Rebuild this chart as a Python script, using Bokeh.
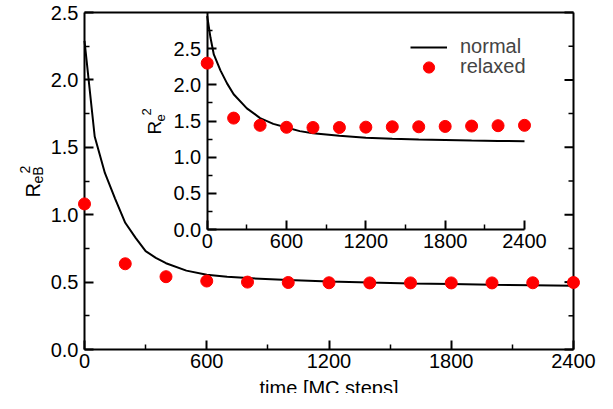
from math import pi
from bokeh.plotting import figure
from bokeh.models import (LinearAxis, Range1d, FixedTicker, PrintfTickFormatter,
                          Label, Legend, LegendItem)
from bokeh.embed import file_html
from bokeh.resources import INLINE

# ---------------- data ----------------
# main panel: R_eB^2 vs time
t_norm = [0, 50, 100, 150, 200, 250, 300, 350, 400, 500, 600, 700, 800,
          1000, 1200, 1400, 1600, 1800, 2000, 2200, 2400]
reb2_norm = [2.29, 1.58, 1.31, 1.12, 0.94, 0.83, 0.73, 0.68, 0.64, 0.585, 0.555,
             0.54, 0.53, 0.515, 0.505, 0.497, 0.49, 0.485, 0.48, 0.476, 0.472]
t_relax = [0, 200, 400, 600, 800, 1000, 1200, 1400, 1600, 1800, 2000, 2200, 2400]
reb2_relax = [1.08, 0.636, 0.54, 0.508, 0.50, 0.497, 0.495, 0.494, 0.494,
              0.494, 0.494, 0.495, 0.497]

# inset: R_e^2 vs time
t_norm_in = [0, 25, 50, 100, 150, 200, 300, 400, 500, 600, 700, 800, 1000,
             1200, 1400, 1600, 1800, 2000, 2200, 2400]
re2_norm = [2.95, 2.65, 2.42, 2.20, 2.02, 1.87, 1.675, 1.54, 1.46, 1.41, 1.36,
            1.33, 1.295, 1.27, 1.255, 1.245, 1.238, 1.23, 1.225, 1.22]
re2_relax = [2.30, 1.54, 1.44, 1.413, 1.41, 1.41, 1.415, 1.42, 1.42, 1.425,
             1.43, 1.435, 1.44]

x_ticks = [0, 600, 1200, 1800, 2400]
x_minor = [300, 900, 1500, 2100]
y_ticks = [0, 0.5, 1.0, 1.5, 2.0, 2.5]
y_minor = [0.25, 0.75, 1.25, 1.75, 2.25]
iy_minor = [0.25, 0.75, 1.25, 1.75, 2.25, 2.75]

FONT = "Liberation Sans"
RED = "#ff0000"

# ---------------- layout geometry (canvas pixels) ----------------
W, H = 597, 393
MX0, MX1, MXMAX = 84.0, 573.0, 2400.0
MY0, MY1, MYMAX = 349.0, 12.0, 2.5          # canvas y of 0 and of the top value
IX0, IX1, IXMAX = 206.7, 524.0, 2400.0
IY0, IY1, IYMAX = 229.0, 12.0, 3.0


def span_x(p0, p1, vmax):
    ppu = (p1 - p0) / vmax
    return -p0 / ppu, vmax + (W - p1) / ppu


def span_y(p0, p1, vmax):
    ppu = (p0 - p1) / vmax
    return -(H - p0) / ppu, vmax + p1 / ppu


p = figure(width=W, height=H, output_backend="svg", toolbar_location=None,
           x_range=Range1d(*span_x(MX0, MX1, MXMAX)),
           y_range=Range1d(*span_y(MY0, MY1, MYMAX)), min_border=0,
           x_axis_type=None, y_axis_type=None)
p.outline_line_color = None
p.background_fill_color = "white"
p.border_fill_color = "white"
p.extra_x_ranges = {"ix": Range1d(*span_x(IX0, IX1, IXMAX))}
p.extra_y_ranges = {"iy": Range1d(*span_y(IY0, IY1, IYMAX))}

TICK_PX = "20px"
MAJ, MIN = 9, 5


def style(ax, standoff=5):
    ax.axis_line_width = 2
    ax.axis_line_color = "black"
    ax.major_tick_line_width = 2
    ax.minor_tick_line_width = 1.5
    ax.major_tick_line_color = "black"
    ax.minor_tick_line_color = "black"
    ax.major_tick_in = MAJ
    ax.major_tick_out = 0
    ax.minor_tick_in = MIN
    ax.minor_tick_out = 0
    ax.major_label_text_font = FONT
    ax.major_label_text_font_size = TICK_PX
    ax.major_label_text_color = "black"
    ax.major_label_standoff = standoff


# main axes, fixed at the box edges
yl = LinearAxis(fixed_location=0, bounds=(0, MYMAX),
                ticker=FixedTicker(ticks=y_ticks, minor_ticks=y_minor),
                formatter=PrintfTickFormatter(format="%.1f"))
style(yl, standoff=6)
p.add_layout(yl, "left")

xb = LinearAxis(fixed_location=0, bounds=(0, MXMAX),
                ticker=FixedTicker(ticks=x_ticks, minor_ticks=x_minor))
style(xb, standoff=4)
p.add_layout(xb, "below")

for loc, side, bnds in [(MXMAX, "right", (0, MYMAX)), (MYMAX, "above", (0, MXMAX))]:
    ax = LinearAxis(fixed_location=loc, bounds=bnds,
                    ticker=FixedTicker(ticks=[], minor_ticks=[]))
    style(ax)
    p.add_layout(ax, side)

# inward ticks on the right edge of the main box
ppx_main = (MX1 - MX0) / MXMAX
p.segment(x0=[MXMAX - MAJ / ppx_main] * len(y_ticks), y0=y_ticks,
          x1=[MXMAX] * len(y_ticks), y1=y_ticks, line_color="black", line_width=2)
p.segment(x0=[MXMAX - MIN / ppx_main] * len(y_minor), y0=y_minor,
          x1=[MXMAX] * len(y_minor), y1=y_minor, line_color="black",
          line_width=1.5)

# inset axes
iya = LinearAxis(x_range_name="ix", y_range_name="iy", fixed_location=0,
                 bounds=(0, IYMAX),
                 ticker=FixedTicker(ticks=y_ticks, minor_ticks=iy_minor),
                 formatter=PrintfTickFormatter(format="%.1f"))
style(iya, standoff=6)
p.add_layout(iya, "left")

ixa = LinearAxis(x_range_name="ix", y_range_name="iy", fixed_location=0,
                 bounds=(0, IXMAX),
                 ticker=FixedTicker(ticks=x_ticks, minor_ticks=x_minor))
style(ixa, standoff=4)
p.add_layout(ixa, "below")

# ---------------- glyphs ----------------
p.line(t_norm, reb2_norm, line_color="black", line_width=2)
p.scatter(t_relax, reb2_relax, size=12, fill_color=RED, line_color=RED,
          level="overlay")

in_line = p.line(t_norm_in, re2_norm, line_color="black", line_width=2,
                 x_range_name="ix", y_range_name="iy")
in_pts = p.scatter(t_relax, re2_relax, size=12, fill_color=RED, line_color=RED,
                   x_range_name="ix", y_range_name="iy", level="overlay")


def legend(label, rend, center_y):
    gh = 28
    lg = Legend(items=[LegendItem(label=label, renderers=[rend])],
                location=(410, H - center_y - gh / 2),
                glyph_width=37, glyph_height=gh, label_standoff=13,
                padding=0, margin=0, label_text_font=FONT,
                label_text_font_size="20px", border_line_alpha=0,
                background_fill_alpha=0)
    p.add_layout(lg)


legend("normal", in_line, 46.5)
legend("relaxed", in_pts, 66.7)


# ---------------- texts (canvas coordinates, y from top) ----------------
def lab(text, x, y, size, angle=0.0, align="left"):
    p.add_layout(Label(text=text, x=x, y=H - y, x_units="screen",
                       y_units="screen", angle=angle, text_font=FONT,
                       text_font_size=size, text_align=align,
                       text_baseline="alphabetic", text_color="black"))


lab("time [MC steps]", (MX0 + MX1) / 2, 387, "20px", align="center")
# main y label  R_eB^2
lab("R", 32, 197, "20px", angle=pi / 2)
lab("eB", 37, 183, "14px", angle=pi / 2)
lab("2", 24, 173, "14px", angle=pi / 2)
# inset y label  R_e^2
lab("R", 154, 134, "19px", angle=pi / 2)
lab("e", 160, 121, "13px", angle=pi / 2)
lab("2", 146, 115, "13px", angle=pi / 2)

open("out.html", "w").write(file_html(p, INLINE))
